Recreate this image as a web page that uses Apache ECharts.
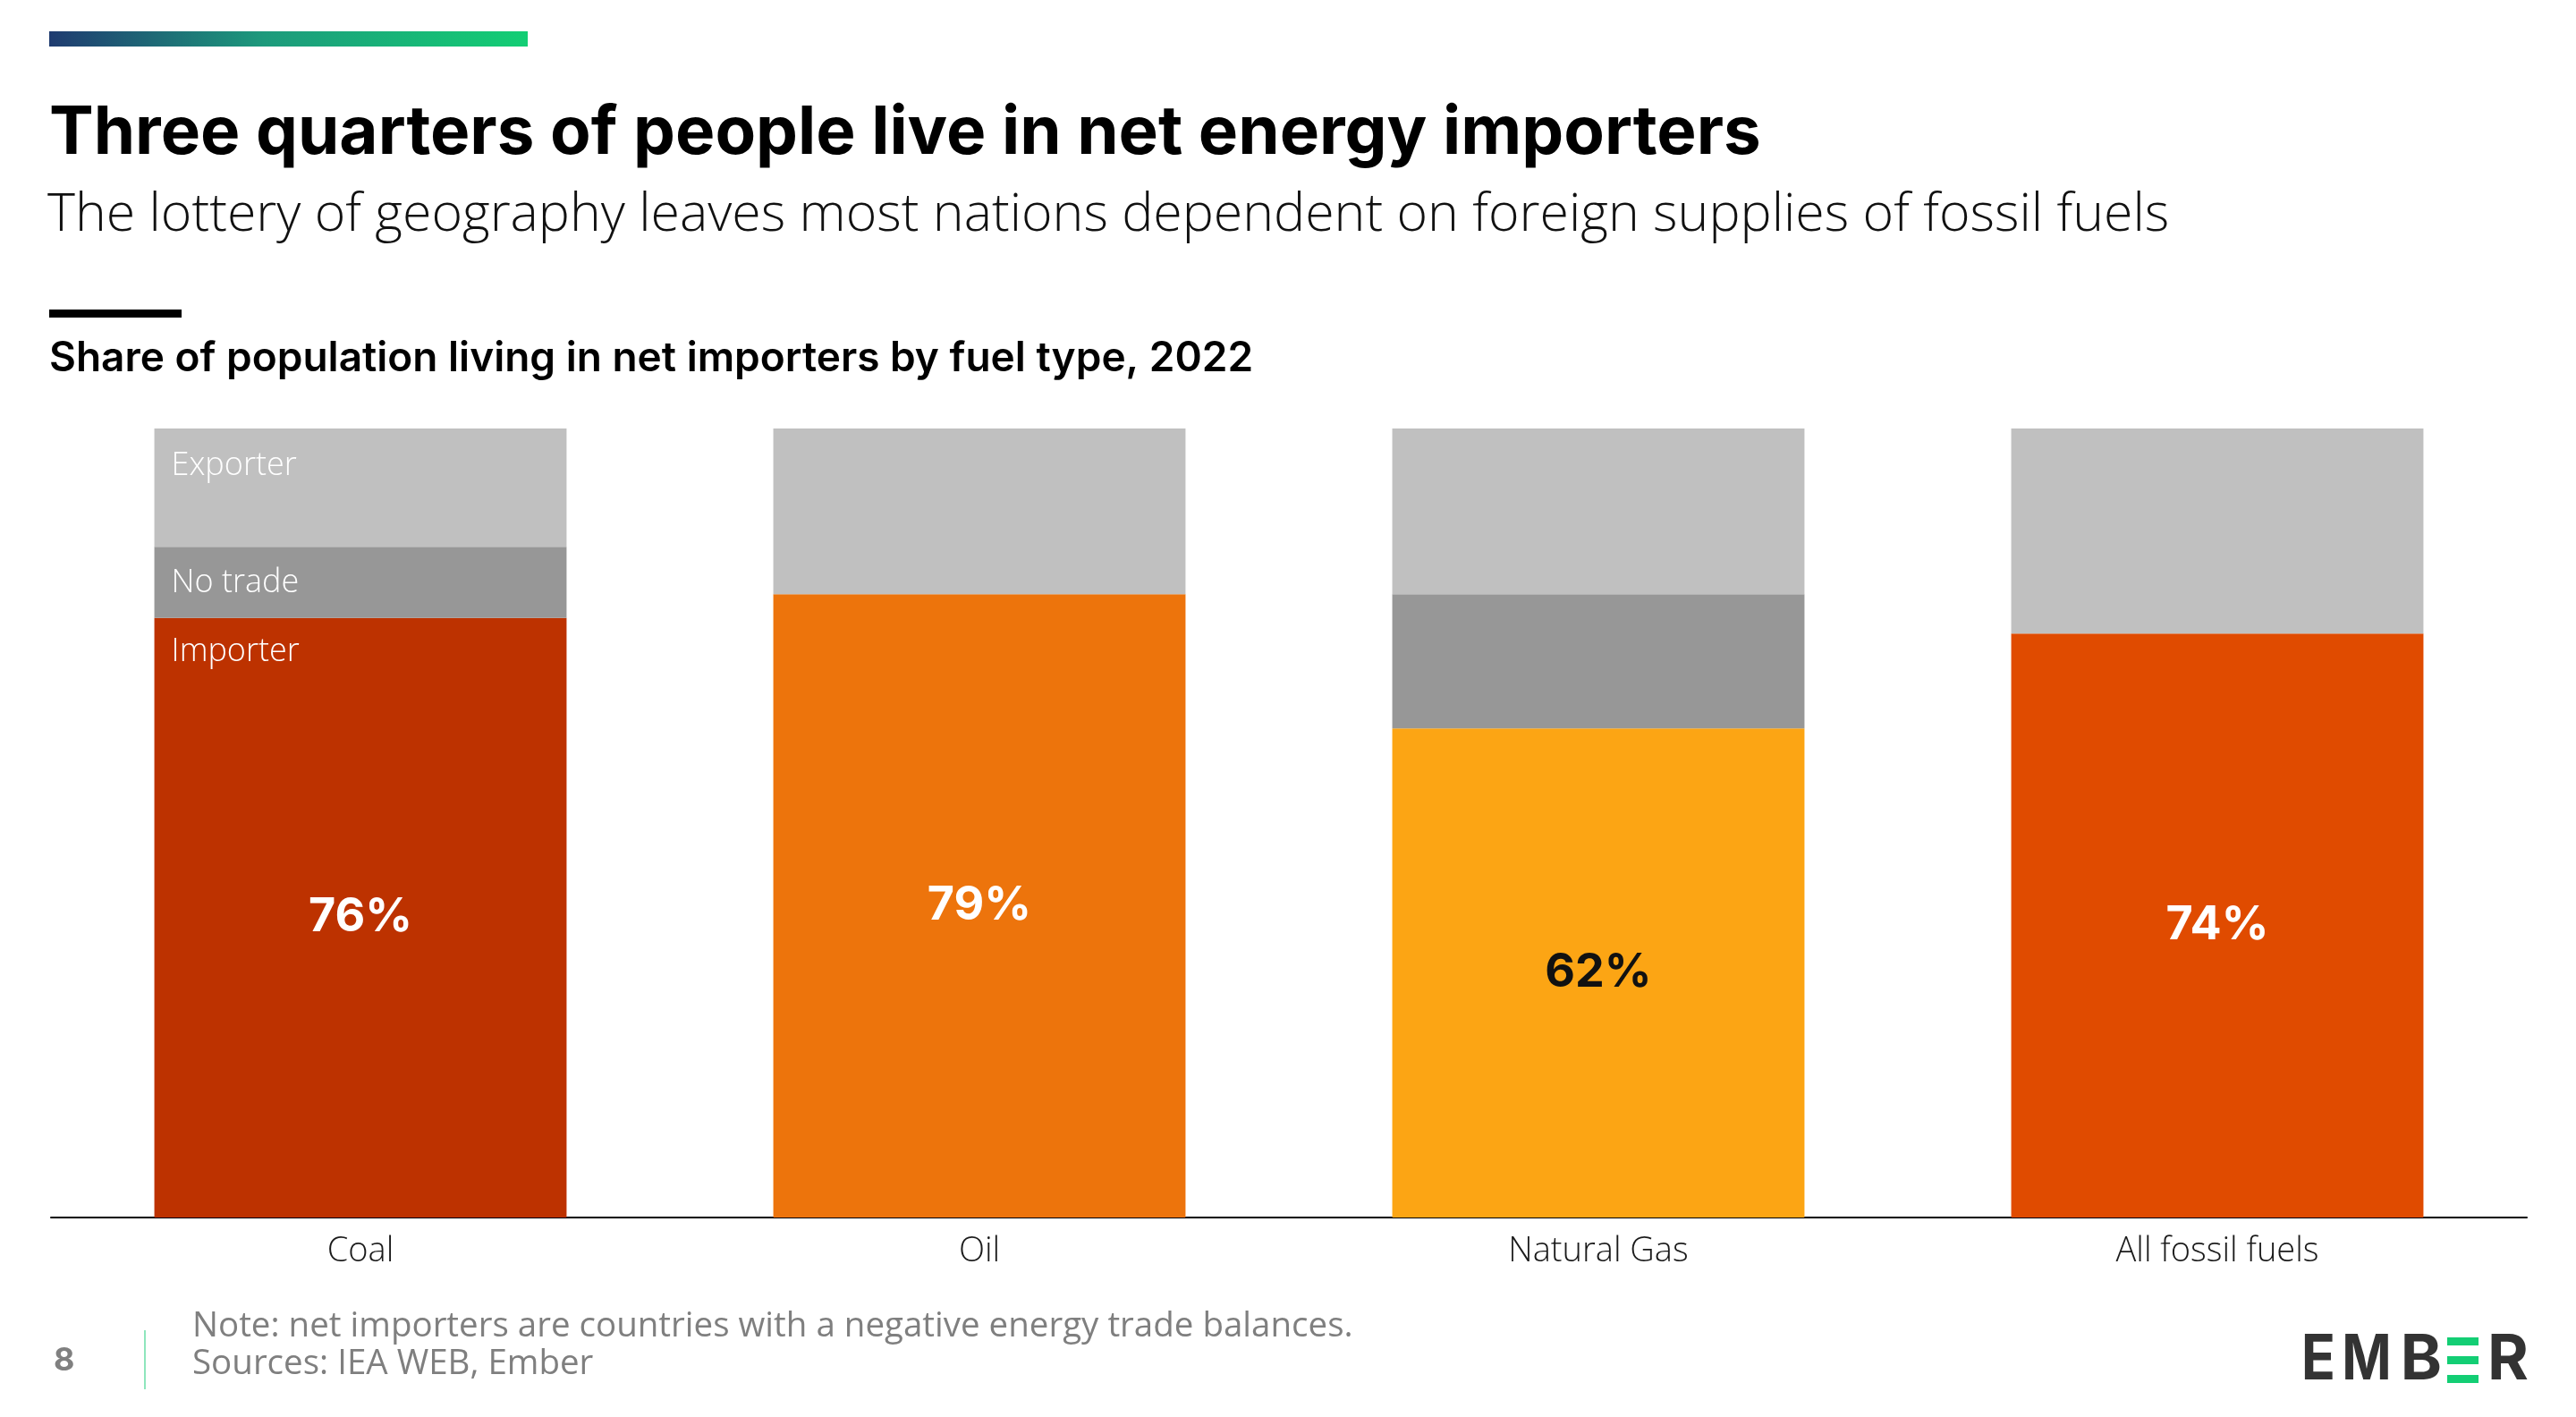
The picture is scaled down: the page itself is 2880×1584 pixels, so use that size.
<!DOCTYPE html>
<html>
<head>
<meta charset="utf-8">
<title>Three quarters of people live in net energy importers</title>
<script src="https://cdn.jsdelivr.net/npm/echarts@6/dist/echarts.min.js"></script>
<style>
    html, body { margin: 0; padding: 0; background: #fff; }
    #main { width: 2880px; height: 1584px; }
</style>
</head>
<body>
<div id="main"></div>
<script>
    // share of population (%) living in countries by trade position, 2022
    var categories = ['Coal', 'Oil', 'Natural Gas', 'All fossil fuels'];
    var importer = [76, 79, 62, 74];
    var noTrade = [9, 0, 17, 0];
    var exporter = [15, 21, 21, 26];

    // colours per category for the importer segment, and its % label
    var importerColors = ['#bd3200', '#ed740c', '#fca514', '#e04b00'];
    var pctColors = ['#ffffff', '#ffffff', '#111111', '#ffffff'];

    var LIGHT = 'Open Sans';
    var BOLD = 'Inter';

    var myChart = echarts.init(document.getElementById('main'));

    // small label only on the first bar (acts as legend)
    function nameLabel(name, dy) {
        return {
            show: true,
            position: 'insideTopLeft',
            distance: 19,
            offset: [0, dy],
            formatter: function (p) { return p.dataIndex === 0 ? name : ''; },
            color: '#ffffff',
            fontFamily: LIGHT,
            fontWeight: 300,
            fontSize: 36
        };
    }

    var option = {
        animation: false,
        backgroundColor: '#ffffff',
        title: [
            {
                text: 'Three quarters of people live in net energy importers',
                left: 55, top: 112, padding: 0,
                textStyle: { fontFamily: BOLD, fontWeight: 'bold', fontSize: 74.5, color: '#000' }
            },
            {
                text: 'The lottery of geography leaves most nations dependent on foreign supplies of fossil fuels',
                left: 53, top: 212, padding: 0,
                textStyle: { fontFamily: LIGHT, fontWeight: 300, fontSize: 59, color: '#111' }
            },
            {
                text: 'Share of population living in net importers by fuel type, 2022',
                left: 55, top: 378, padding: 0,
                textStyle: { fontFamily: BOLD, fontWeight: 600, fontSize: 46, color: '#000' }
            },
            {
                text: 'Note: net importers are countries with a negative energy trade balances.',
                left: 215, top: 1464, padding: 0,
                textStyle: { fontFamily: LIGHT, fontWeight: 400, fontSize: 38.5, color: '#7f7f7f' }
            },
            {
                text: 'Sources: IEA WEB, Ember',
                left: 215, top: 1506, padding: 0,
                textStyle: { fontFamily: LIGHT, fontWeight: 400, fontSize: 38.5, color: '#7f7f7f' }
            },
            {
                text: '8',
                left: 60, top: 1503, padding: 0,
                textStyle: { fontFamily: BOLD, fontWeight: 'bold', fontSize: 36, color: '#808080' }
            }
        ],
        grid: { left: 57, right: 55, top: 479, bottom: 223, containLabel: false },
        xAxis: {
            type: 'category',
            data: categories,
            axisLine: { lineStyle: { color: '#000', width: 2 } },
            axisTick: { show: false },
            axisLabel: {
                margin: 19,
                color: '#1a1a1a',
                fontFamily: LIGHT,
                fontWeight: 300,
                fontSize: 38
            }
        },
        yAxis: {
            type: 'value',
            min: 0,
            max: 100,
            show: false,
            splitLine: { show: false }
        },
        series: [
            {
                name: 'Importer',
                type: 'bar',
                stack: 'share',
                barCategoryGap: '33.4%',
                barGap: '-100%',
                data: importer.map(function (v, i) {
                    return {
                        value: v,
                        itemStyle: { color: importerColors[i] },
                        label: { color: pctColors[i] }
                    };
                }),
                label: {
                    show: true,
                    position: 'inside',
                    formatter: '{c}%',
                    fontFamily: BOLD,
                    fontWeight: 'bold',
                    fontSize: 52
                }
            },
            {
                name: 'No trade',
                type: 'bar',
                stack: 'share',
                barCategoryGap: '33.4%',
                barGap: '-100%',
                itemStyle: { color: '#979797' },
                data: noTrade,
                label: nameLabel('No trade', 3)
            },
            {
                name: 'Exporter',
                type: 'bar',
                stack: 'share',
                barCategoryGap: '33.4%',
                barGap: '-100%',
                itemStyle: { color: '#c0c0c0' },
                data: exporter,
                label: nameLabel('Exporter', 5)
            },
            {
                // transparent copy of the importer segment, only to carry its name label
                name: 'Importer name',
                type: 'bar',
                stack: 'names',
                barCategoryGap: '33.4%',
                barGap: '-100%',
                silent: true,
                itemStyle: { color: 'rgba(0,0,0,0)' },
                data: importer,
                label: nameLabel('Importer', 1)
            }
        ],
        graphic: [
            {
                type: 'rect',
                shape: { x: 55, y: 35, width: 535, height: 17 },
                style: {
                    fill: new echarts.graphic.LinearGradient(0, 0, 1, 0, [
                        { offset: 0, color: '#1f3b70' },
                        { offset: 0.45, color: '#1d9a7c' },
                        { offset: 1, color: '#13ce74' }
                    ])
                }
            },
            {
                type: 'rect',
                shape: { x: 55, y: 346, width: 148, height: 9 },
                style: { fill: '#000' }
            },
            {
                type: 'rect',
                shape: { x: 161, y: 1487, width: 2, height: 66 },
                style: { fill: '#8fe6bd' }
            },
            // EMBER logo
            { type: 'text', x: 2592, y: 1521, scaleX: 0.9, style: { text: 'E', fill: '#333', font: 'bold 70px Inter', align: 'center', verticalAlign: 'middle' } },
            { type: 'text', x: 2646, y: 1521, scaleX: 0.85, style: { text: 'M', fill: '#333', font: 'bold 70px Inter', align: 'center', verticalAlign: 'middle' } },
            { type: 'text', x: 2707, y: 1521, style: { text: 'B', fill: '#333', font: 'bold 70px Inter', align: 'center', verticalAlign: 'middle' } },
            { type: 'rect', shape: { x: 2736, y: 1495, width: 35, height: 9 }, style: { fill: '#13ce74' } },
            { type: 'rect', shape: { x: 2736, y: 1516, width: 35, height: 9 }, style: { fill: '#13ce74' } },
            { type: 'rect', shape: { x: 2736, y: 1537, width: 35, height: 9 }, style: { fill: '#13ce74' } },
            { type: 'text', x: 2804, y: 1521, style: { text: 'R', fill: '#333', font: 'bold 70px Inter', align: 'center', verticalAlign: 'middle' } }
        ]
    };

    myChart.setOption(option);
</script>
</body>
</html>
